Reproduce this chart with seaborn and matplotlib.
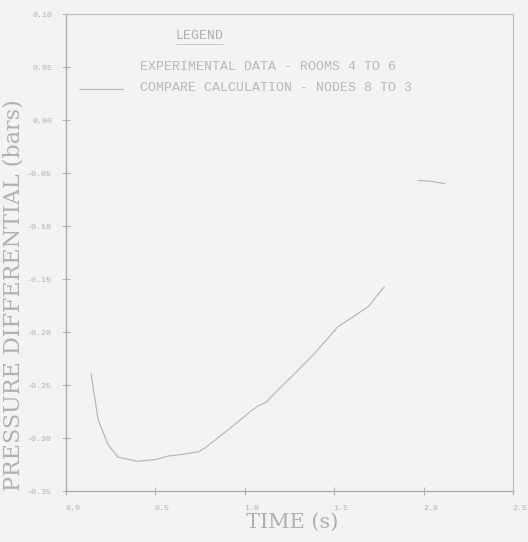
import numpy as np
import pandas as pd
import matplotlib
matplotlib.use("Agg")
import matplotlib.pyplot as plt
import matplotlib.transforms as mtransforms
from matplotlib.lines import Line2D
from matplotlib.ticker import MultipleLocator
import seaborn as sns

# COMPARE calculation, nodes 8 to 3: time (s) vs pressure differential (bars)
# (the trace is broken between 1.78 s and 1.97 s)
calc_time = [0.14, 0.18, 0.235, 0.29, 0.40, 0.51, 0.57, 0.625, 0.74, 0.78, 0.87,
             0.96, 1.03, 1.07, 1.12, 1.20, 1.28, 1.39, 1.52, 1.69, 1.78,
             1.97, 2.05, 2.12]
calc_dp = [-0.239, -0.283, -0.306, -0.318, -0.322, -0.320, -0.317, -0.316, -0.313,
           -0.309, -0.297, -0.285, -0.275, -0.270, -0.266, -0.252, -0.239, -0.220,
           -0.195, -0.176, -0.157, -0.057, -0.058, -0.060]
calc_piece = [0] * 21 + [1] * 3

x_ticks = [0.0, 0.5, 1.0, 1.5, 2.0, 2.5]
y_ticks = [0.10, 0.05, 0.00, -0.05, -0.10, -0.15, -0.20, -0.25, -0.30, -0.35]

legend_title = "LEGEND"
legend_labels = ["EXPERIMENTAL DATA - ROOMS 4 TO 6",
                 "COMPARE CALCULATION - NODES 8 TO 3"]

sns.set_theme(style="white")
plt.rcParams["font.family"] = ["DejaVu Sans"]

ink = "#b4b4b4"
paper = "#f3f3f3"
mono = "Liberation Mono"
serif = "DejaVu Serif"

fig = plt.figure(figsize=(5.28, 5.42), dpi=100, facecolor=paper)
ax = fig.add_axes([0.125, 0.094, 0.847, 0.880])
ax.set_facecolor(paper)

df = pd.DataFrame({"t": calc_time, "dp": calc_dp, "piece": calc_piece})
sns.lineplot(data=df, x="t", y="dp", units="piece", ax=ax, color="#b2b2b2", lw=0.8,
             sort=False, estimator=None)

ax.set_xlim(0.0, 2.5)
ax.set_ylim(-0.35, 0.10)
ax.set_xticks(x_ticks)
ax.set_yticks(y_ticks)
ax.set_xticklabels([f"{v:.1f}" for v in x_ticks], family=mono)
ax.set_yticklabels([f"{v:.2f}".replace("-0.00", "0.00") for v in y_ticks], family=mono)
ax.xaxis.set_minor_locator(MultipleLocator(0.25))
ax.yaxis.set_minor_locator(MultipleLocator(0.025))
ax.tick_params(axis="both", which="major", direction="inout", length=6, width=0.8,
               color=ink, labelsize=6, labelcolor="#b0b0b0", pad=7)
ax.tick_params(axis="both", which="minor", direction="inout", length=3, width=0.6,
               color=ink)
ax.tick_params(left=True, bottom=True)

# plotter-style x labels sit a little to the right of their ticks
shift = mtransforms.ScaledTranslation(7 / 100, 0, fig.dpi_scale_trans)
for lab in ax.get_xticklabels():
    lab.set_transform(lab.get_transform() + shift)

for side in ["left", "bottom"]:
    ax.spines[side].set_color("#a8a8a8")
    ax.spines[side].set_linewidth(0.9)
for side in ["top", "right"]:
    ax.spines[side].set_color("#bdbdbd")
    ax.spines[side].set_linewidth(0.8)

ax.set_xlabel("TIME (s)", family=serif, fontsize=15, color="#b0b0b0")
ax.xaxis.set_label_coords(0.505, -0.045)
ax.set_ylabel("PRESSURE DIFFERENTIAL (bars)", family=serif, fontsize=16,
              color="#b0b0b0")
ax.yaxis.set_label_coords(-0.093, 0.41)

# hand-drawn legend block in the upper left
ax.text(0.245, 0.955, legend_title, transform=ax.transAxes, fontsize=9.5,
        family=mono, color="#b0b0b0", ha="left", va="center")
ax.add_line(Line2D([0.245, 0.35], [0.937, 0.937], transform=ax.transAxes,
                   color="#c0c0c0", lw=0.6))
ax.text(0.165, 0.889, legend_labels[0], transform=ax.transAxes, fontsize=9.5,
        family=mono, color="#b8b8b8", ha="left", va="center")
ax.text(0.165, 0.845, legend_labels[1], transform=ax.transAxes, fontsize=9.5,
        family=mono, color="#b8b8b8", ha="left", va="center")
ax.add_line(Line2D([0.03, 0.128], [0.843, 0.843], transform=ax.transAxes,
                   color="#b8b8b8", lw=0.8))

fig.savefig("out.png", dpi=100, facecolor=paper)
